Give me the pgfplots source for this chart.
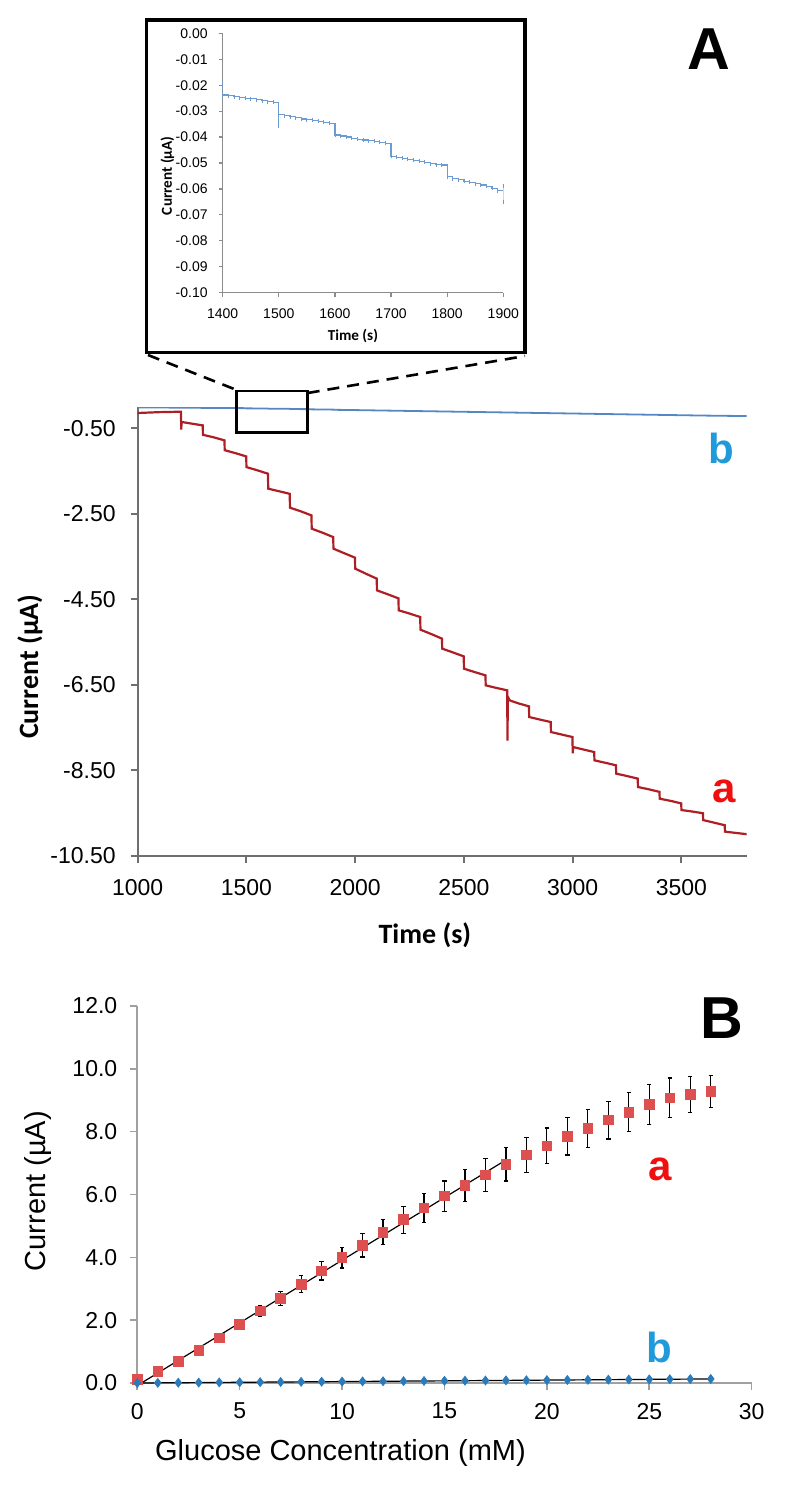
\documentclass[border=0pt]{standalone}
\usepackage{fontspec}
\setmainfont{Liberation Sans}
\newfontfamily\carlito{Carlito}
\usepackage{pgfplots}
\pgfplotsset{compat=1.18}
\pgfplotsset{/pgf/number format/assume math mode=true}
\definecolor{redA}{HTML}{AD1F24}
\definecolor{blueA}{HTML}{5587C3}
\definecolor{blueIn}{HTML}{6A9BD2}
\definecolor{blueLab}{HTML}{1F9BDB}
\definecolor{redLab}{HTML}{F00F0F}
\definecolor{redB}{HTML}{DE4F4F}
\definecolor{blueB}{HTML}{2B7BBA}
\definecolor{grayA}{HTML}{6F6F6F}
\definecolor{grayB}{HTML}{A0A0A0}
\definecolor{grayIn}{HTML}{8C8C8C}

\pgfplotstableread{
x y e
0 0.11 0.05
1 0.37 0.06
2 0.69 0.07
3 1.04 0.08
4 1.43 0.10
5 1.86 0.12
6 2.29 0.16
7 2.69 0.22
8 3.14 0.27
9 3.57 0.29
10 3.99 0.33
11 4.38 0.37
12 4.80 0.40
13 5.20 0.43
14 5.57 0.45
15 5.95 0.48
16 6.29 0.50
17 6.62 0.52
18 6.96 0.53
19 7.26 0.56
20 7.55 0.57
21 7.85 0.59
22 8.10 0.60
23 8.37 0.60
24 8.62 0.62
25 8.86 0.63
26 9.08 0.63
27 9.18 0.57
28 9.28 0.50
}\dataA

\pgfplotstableread{
x y
0 0.00
1 0.005
2 0.010
3 0.014
4 0.019
5 0.023
6 0.028
7 0.033
8 0.037
9 0.042
10 0.046
11 0.051
12 0.056
13 0.060
14 0.065
15 0.070
16 0.074
17 0.079
18 0.084
19 0.088
20 0.093
21 0.098
22 0.102
23 0.107
24 0.112
25 0.116
26 0.121
27 0.126
28 0.130
}\dataB

\begin{document}
\begin{tikzpicture}
\useasboundingbox (0,0) rectangle (397.5pt,-745pt);

% ---------- Panel A main ----------
\begin{axis}[
  scale only axis, width=304.5pt, height=224.5pt,
  at={(68.85pt,-428pt)}, anchor=south west,
  xmin=1000, xmax=3800, ymin=-10.5, ymax=0,
  axis lines*=left,
  axis line style={grayA, line width=1pt, -},
  every tick/.style={grayA, line width=1pt},
  tick align=outside, major tick length=3.5pt,
  xtick={1000,1500,2000,2500,3000,3500},
  ytick={-10.5,-8.5,-6.5,-4.5,-2.5,-0.5},
  tick label style={font=\fontsize{11.5}{13}\selectfont, black},
  yticklabel style={xshift=-4pt, /pgf/number format/.cd, fixed, fixed zerofill, precision=2},
  xticklabel style={yshift=-4.75pt, /pgf/number format/.cd, set thousands separator={}},
  xlabel={\carlito\bfseries Time (s)},
  xlabel style={at={(axis description cs:0.4716,-0.176)}, anchor=center, font=\fontsize{14}{16}\selectfont},
  ylabel={\carlito\bfseries Current (µA)},
  ylabel style={at={(axis description cs:-0.177,0.4216)}, anchor=center, rotate=0, font=\fontsize{14}{16}\selectfont},
]
\addplot[color=redA, line width=1.1pt] coordinates {
(1000,-0.14) (1100,-0.12) (1199,-0.11) (1200,-0.53) (1202,-0.35)
(1250,-0.39) (1299,-0.43) (1300,-0.65) (1350,-0.71) (1399,-0.78)
(1400,-1.01) (1450,-1.08) (1499,-1.155) (1500,-1.405) (1550,-1.48)
(1599,-1.56) (1600,-1.91) (1650,-1.97) (1699,-2.03) (1700,-2.354)
(1750,-2.44) (1799,-2.534) (1800,-2.845) (1850,-2.94) (1899,-3.042)
(1900,-3.313) (1950,-3.42) (1999,-3.523) (2000,-3.78) (2050,-3.90)
(2099,-4.014) (2100,-4.288) (2150,-4.38) (2199,-4.475) (2200,-4.755)
(2250,-4.83) (2299,-4.912) (2300,-5.207) (2350,-5.31) (2399,-5.417)
(2400,-5.651) (2450,-5.74) (2499,-5.831) (2500,-6.119) (2550,-6.20)
(2599,-6.275) (2600,-6.509) (2650,-6.57) (2699,-6.626) (2700,-7.80)
(2702,-6.78) (2710,-6.86) (2750,-6.93) (2799,-7.0) (2800,-7.25)
(2850,-7.31) (2899,-7.367) (2900,-7.601) (2950,-7.66) (2999,-7.718)
(3000,-8.10) (3002,-7.952) (3050,-8.01) (3099,-8.069) (3100,-8.263)
(3150,-8.32) (3199,-8.379) (3200,-8.574) (3250,-8.63) (3299,-8.69)
(3300,-8.887) (3350,-8.94) (3399,-9.0) (3400,-9.16) (3450,-9.21)
(3499,-9.27) (3500,-9.425) (3550,-9.46) (3599,-9.50) (3600,-9.66)
(3650,-9.72) (3699,-9.78) (3700,-9.93) (3750,-9.96) (3800,-9.99)
};
\addplot[color=blueA, line width=0.9pt] coordinates {
(1000,-0.008) (1100,-0.012) (1200,-0.016) (1300,-0.020) (1400,-0.024)
(1499,-0.027) (1500,-0.0315) (1599,-0.035) (1600,-0.039) (1699,-0.043)
(1700,-0.047) (1799,-0.051) (1800,-0.055) (1899,-0.061) (1900,-0.065)
(2000,-0.072) (2100,-0.080) (2200,-0.088) (2300,-0.096) (2400,-0.104)
(2500,-0.112) (2600,-0.120) (2700,-0.128) (2800,-0.136) (2900,-0.144)
(3000,-0.152) (3100,-0.160) (3200,-0.168) (3300,-0.176) (3400,-0.184)
(3500,-0.192) (3600,-0.200) (3700,-0.206) (3800,-0.212)
};
\end{axis}

% zoom box and connectors
\draw[black, line width=1.3pt] (118.35pt,-195.5pt) rectangle (153.85pt,-216.35pt);
\draw[black, line width=1.3pt, dash pattern=on 6pt off 4pt] (74pt,-177.5pt) -- (118.35pt,-195pt);
\draw[black, line width=1.3pt, dash pattern=on 6pt off 4pt] (153.85pt,-196.5pt) -- (262.5pt,-178pt);
% inset frame
\draw[black, line width=1.6pt, fill=white] (73.35pt,-10pt) rectangle (262.5pt,-176.35pt);

% ---------- Inset ----------
\begin{axis}[
  scale only axis, width=140.3pt, height=129.7pt,
  at={(111.35pt,-146.35pt)}, anchor=south west,
  xmin=1400, xmax=1900, ymin=-0.1, ymax=0,
  axis lines*=left,
  axis line style={grayIn, line width=0.6pt, -},
  every tick/.style={grayIn, line width=0.6pt},
  tick align=outside, major tick length=2pt,
  xtick={1400,1500,1600,1700,1800,1900},
  ytick={-0.1,-0.09,-0.08,-0.07,-0.06,-0.05,-0.04,-0.03,-0.02,-0.01,0},
  tick label style={font=\fontsize{7}{8}\selectfont, black},
  yticklabel style={xshift=-2pt, /pgf/number format/.cd, fixed, fixed zerofill, precision=2},
  xticklabel style={yshift=-2.5pt, /pgf/number format/.cd, set thousands separator={}},
  xlabel={\carlito\bfseries Time (s)},
  xlabel style={at={(axis description cs:0.464,-0.167)}, anchor=center, font=\fontsize{7.6}{9}\selectfont},
  ylabel={\carlito\bfseries Current (µA)},
  ylabel style={at={(axis description cs:-0.197,0.4507)}, anchor=center, font=\fontsize{7.6}{9}\selectfont},
]
\addplot[const plot, color=blueIn, line width=0.6pt, mark=|, mark size=1pt, mark options={blueIn, line width=0.4pt}] coordinates {
(1400,-0.0195) (1400,-0.0238) (1410,-0.0241) (1420,-0.0244) (1430,-0.0248)
(1440,-0.0250) (1450,-0.0252) (1460,-0.0256) (1470,-0.0260) (1480,-0.0263)
(1490,-0.0266) (1500,-0.0358) (1500,-0.0314) (1510,-0.0318) (1520,-0.0322)
(1530,-0.0326) (1540,-0.0330) (1550,-0.0333) (1560,-0.0336) (1570,-0.0339)
(1580,-0.0343) (1590,-0.0347) (1600,-0.0392) (1610,-0.0396) (1620,-0.0400)
(1630,-0.0404) (1640,-0.0408) (1650,-0.0411) (1660,-0.0414) (1670,-0.0417)
(1680,-0.0420) (1690,-0.0424) (1700,-0.0474) (1710,-0.0478) (1720,-0.0482)
(1730,-0.0486) (1740,-0.0490) (1750,-0.0494) (1760,-0.0498) (1770,-0.0502)
(1780,-0.0506) (1790,-0.0508) (1800,-0.0553) (1810,-0.0560) (1820,-0.0565)
(1830,-0.0570) (1840,-0.0575) (1850,-0.0580) (1860,-0.0585) (1870,-0.0590)
(1880,-0.0598) (1890,-0.0606) (1900,-0.0650) (1900,-0.0590)
};
\end{axis}

% ---------- Panel B ----------
\begin{axis}[
  scale only axis, width=307.2pt, height=188.5pt,
  at={(68.65pt,-691.5pt)}, anchor=south west,
  xmin=0, xmax=30, ymin=0, ymax=12,
  clip=false,
  axis lines*=left,
  axis line style={grayB, line width=0.8pt, -},
  every tick/.style={grayB, line width=0.8pt},
  tick align=outside, major tick length=3.5pt,
  xtick={0,5,10,15,20,25,30},
  ytick={0,2,4,6,8,10,12},
  tick label style={font=\fontsize{11.5}{13}\selectfont, black},
  yticklabel style={xshift=-3pt, /pgf/number format/.cd, fixed, fixed zerofill, precision=1},
  xticklabel style={yshift=-3pt},
  xlabel={Glucose Concentration (mM)},
  xlabel style={at={(axis description cs:0.3307,-0.185)}, anchor=center, font=\fontsize{14.5}{17}\selectfont},
  ylabel={Current (µA)},
  ylabel style={at={(axis description cs:-0.1624,0.509)}, anchor=center, font=\fontsize{14.5}{17}\selectfont},
]
\addplot[only marks, mark=square*, mark size=2.4pt, color=redB,
  error bars/.cd, y dir=both, y explicit,
  error bar style={black, line width=0.6pt},
  error mark options={rotate=90, mark size=1.1pt, black, line width=0.6pt}]
  table[x=x, y=y, y error=e] {\dataA};
\addplot[only marks, mark=diamond*, mark size=2.2pt, color=blueB] table[x=x, y=y] {\dataB};
\addplot[black, line width=0.6pt] coordinates {(0.2,0) (18,7.1)};
\addplot[black, line width=0.6pt] coordinates {(0,0.0) (28,0.13)};
\end{axis}

% ---------- Letters ----------
\node[font=\fontsize{29.6}{32}\selectfont\bfseries] at (354.5pt,-24.75pt) {A};
\node[font=\fontsize{29.6}{32}\selectfont\bfseries] at (361pt,-509.15pt) {B};
\node[font=\fontsize{21}{24}\selectfont\bfseries, text=blueLab] at (360.5pt,-224pt) {b};
\node[font=\fontsize{21}{24}\selectfont\bfseries, text=redLab] at (362pt,-395.5pt) {a};
\node[font=\fontsize{21}{24}\selectfont\bfseries, text=redLab] at (330pt,-584.75pt) {a};
\node[font=\fontsize{21}{24}\selectfont\bfseries, text=blueLab] at (329.5pt,-673.5pt) {b};
\end{tikzpicture}
\end{document}
